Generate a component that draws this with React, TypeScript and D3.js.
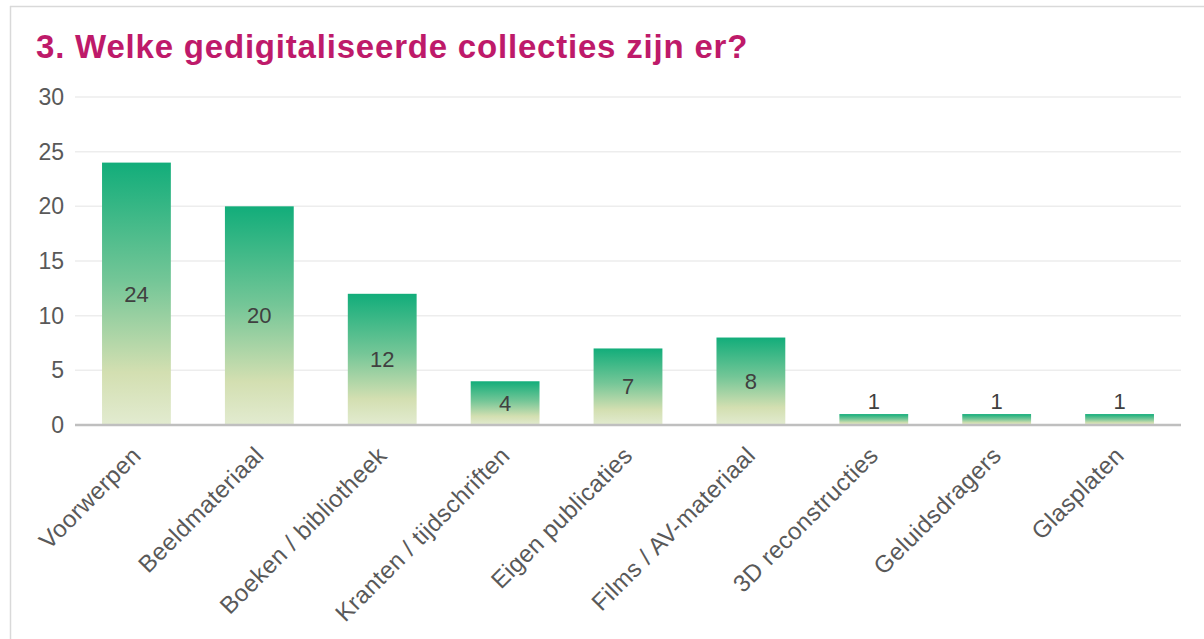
import React from "react";
import * as d3 from "d3";

const categories = [
  "Voorwerpen",
  "Beeldmateriaal",
  "Boeken / bibliotheek",
  "Kranten / tijdschriften",
  "Eigen publicaties",
  "Films / AV-materiaal",
  "3D reconstructies",
  "Geluidsdragers",
  "Glasplaten",
];
const values = [24, 20, 12, 4, 7, 8, 1, 1, 1];
const yTicks = [0, 5, 10, 15, 20, 25, 30];
const title = "3. Welke gedigitaliseerde collecties zijn er?";

const W = 1204;
const H = 639;
const left = 75;
const right = 1181;
const top = 97;
const bottom = 425;

export default function App() {
  const x = d3.scaleBand<string>().domain(categories).range([left, right]).paddingInner(0.44).paddingOuter(0.22);
  const y = d3.scaleLinear().domain([0, 30]).range([bottom, top]);
  const font = "'Liberation Sans', Arial, sans-serif";
  return (
    <svg width={W} height={H} style={{ position: "absolute", left: 0, top: 0, background: "#fff" }}>
      <defs>
        <linearGradient id="barGrad" x1="0" y1="0" x2="0" y2="1">
          <stop offset="0%" stopColor="#12AD7A" />
          <stop offset="45%" stopColor="#74C697" />
          <stop offset="80%" stopColor="#D3DFB1" />
          <stop offset="100%" stopColor="#E2EBD0" />
        </linearGradient>
      </defs>
      <line x1={10.5} y1={6} x2={10.5} y2={H} stroke="#D9D9D9" strokeWidth={1.5} />
      <line x1={10} y1={6.5} x2={W} y2={6.5} stroke="#D9D9D9" strokeWidth={1.5} />
      <text x={36} y={58} fontFamily={font} fontWeight="bold" fontSize={33} letterSpacing={0.8} fill="#BE1A6A">
        {title}
      </text>
      {yTicks.map((t) => (
        <g key={t}>
          {t > 0 && (
            <line x1={left} x2={right} y1={y(t)} y2={y(t)} stroke="#EDEDED" strokeWidth={1.5} />
          )}
          <text x={64} y={y(t)} dy="0.35em" textAnchor="end" fontFamily={font} fontSize={23} fill="#595959">
            {t}
          </text>
        </g>
      ))}
      {categories.map((c, i) => {
        const v = values[i];
        const bx = x(c)!;
        const bw = x.bandwidth();
        const by = y(v);
        const bh = bottom - by;
        const cx = bx + bw / 2;
        const ly = bh < 25 ? by - 13 : by + bh / 2;
        return (
          <g key={c}>
            <rect x={bx} y={by} width={bw} height={bh} fill="url(#barGrad)" />
            <text x={cx} y={ly} dy="0.35em" textAnchor="middle" fontFamily={font} fontSize={22} fill="#404040">
              {v}
            </text>
            <text
              transform={`translate(${cx + 6},${bottom + 32}) rotate(-45)`}
              textAnchor="end"
              fontFamily={font}
              fontSize={24}
              letterSpacing={0.4}
              fill="#595959"
            >
              {c}
            </text>
          </g>
        );
      })}
      <line x1={left} x2={right} y1={bottom} y2={bottom} stroke="#BFBFBF" strokeWidth={2.5} />
    </svg>
  );
}
